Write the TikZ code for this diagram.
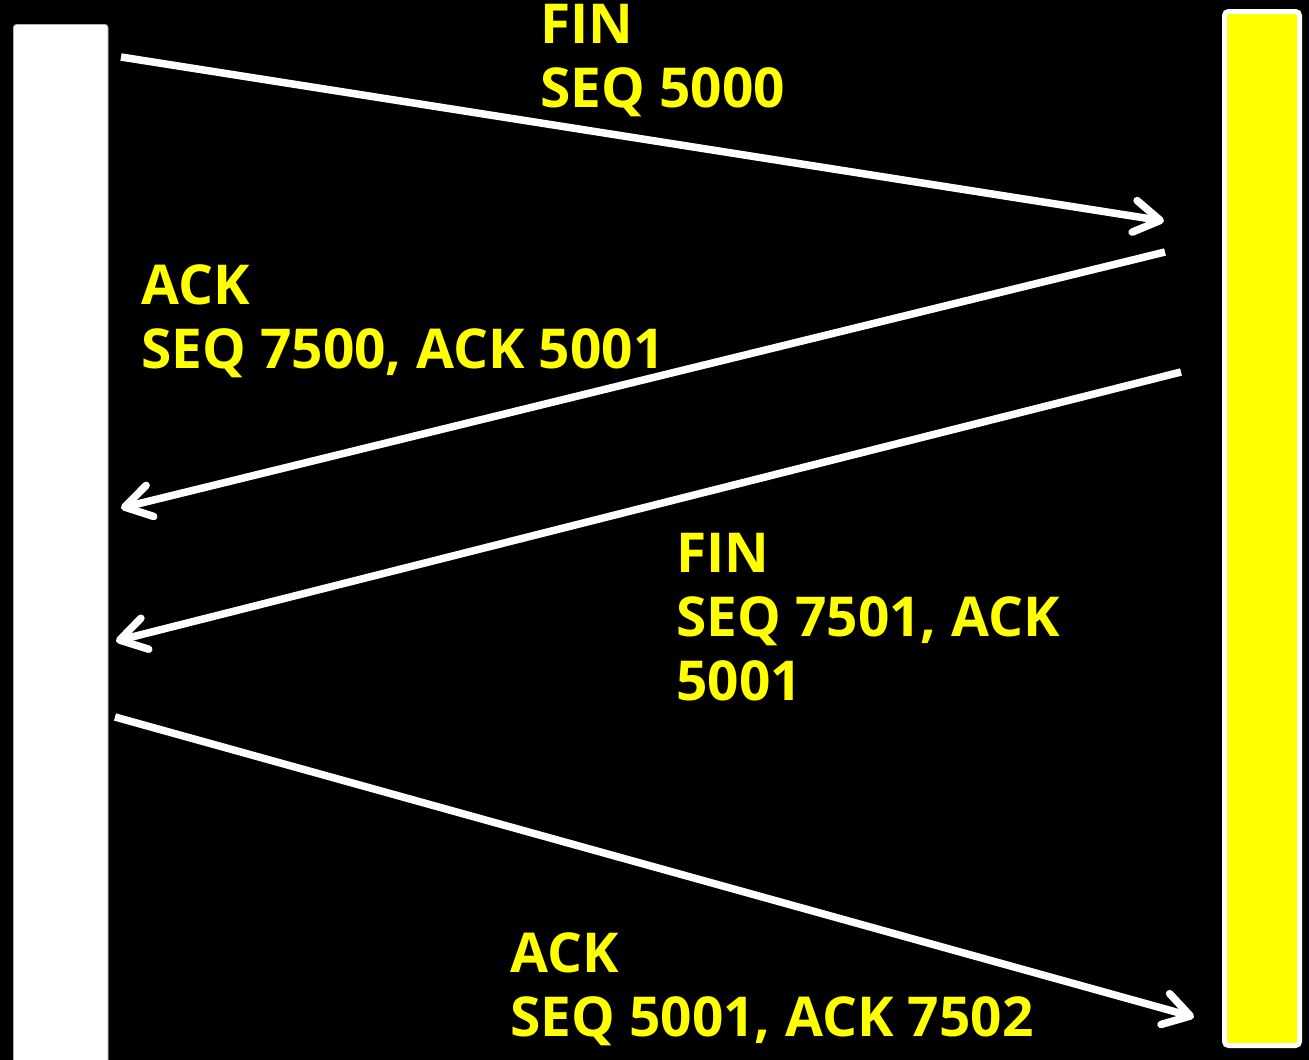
\documentclass[tikz,border=0pt]{standalone}
\usepackage{fontspec}
\setmainfont{Open Sans}
\usetikzlibrary{arrows.meta}
\definecolor{hostyellow}{RGB}{255,255,0}
\tikzset{
  msg/.style={draw=white, line width=7.5pt,
    -{Straight Barb[length=26pt, width=32pt, round]}},
  label/.style={anchor=base west, inner sep=0pt, align=left,
    text=hostyellow, font=\bfseries\fontsize{55}{64}\selectfont},
}
\begin{document}
\begin{tikzpicture}[x=1pt, y=-1pt]
  % canvas
  \fill[black] (0,0) rectangle (1309,1060);
  \useasboundingbox (0,0) rectangle (1309,1060);

  % the two hosts
  \draw[fill=white, draw=gray!60, line width=0.8pt, rounded corners=3pt]
    (13.5,24.5) rectangle (108,1075);
  \node[inner sep=0pt, minimum width=95pt, minimum height=1036pt] (client) at (60.5,542) {};
  \draw[fill=hostyellow, draw=white, line width=5pt, rounded corners=4pt]
    (1224.5,11.5) rectangle (1299.5,1045.5);
  \node[inner sep=0pt, minimum width=75pt, minimum height=1034pt] (server) at (1262,528.5) {};

  % message end points
  \coordinate (c1) at (121,57);   \coordinate (s1) at (1164,221);
  \coordinate (s2) at (1165,252); \coordinate (c2) at (121,508);
  \coordinate (s3) at (1181,372); \coordinate (c3) at (116,641);
  \coordinate (c4) at (115,717);  \coordinate (s4) at (1194,1017);

  % messages
  \draw[msg] (c1) -- (s1);
  \draw[msg] (s2) -- (c2);
  \draw[msg] (s3) -- (c3);
  \draw[msg] (c4) -- (s4);

  % message labels (anchored on the baseline of the last line)
  \node[label] (l1) at (540,107)  {FIN\\SEQ 5000};
  \node[label] (l2) at (141,368)  {ACK\\SEQ 7500, ACK 5001};
  \node[label] (l3) at (676,700)  {FIN\\SEQ 7501, ACK\\5001};
  \node[label] (l4) at (510,1036) {ACK\\SEQ 5001, ACK 7502};
\end{tikzpicture}
\end{document}
